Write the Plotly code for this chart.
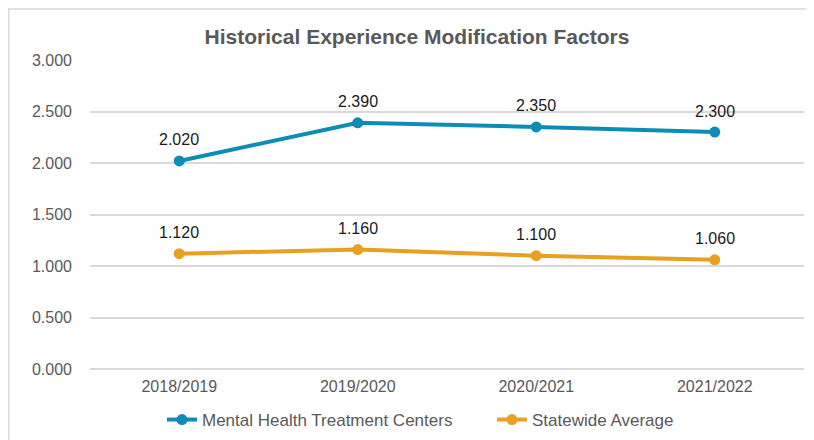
import plotly.graph_objects as go

categories = ["2018/2019", "2019/2020", "2020/2021", "2021/2022"]
mental_health = [2.020, 2.390, 2.350, 2.300]
statewide = [1.120, 1.160, 1.100, 1.060]
y_ticks = [0, 0.5, 1.0, 1.5, 2.0, 2.5, 3.0]

BLUE = "#0E8CB8"
ORANGE = "#E8A020"
GREY = "#595959"
FONT = "Liberation Sans, Arial, sans-serif"

OFF = 8  # page body margin
W, H = 814 - OFF, 440 - OFF
ML, MR, MT, MB = 90 - OFF, 10, 60 - OFF, 71
PW, PH = W - ML - MR, H - MT - MB

def px_x(p):
    return (p - OFF - ML) / PW

def px_y(p):
    return (H - MB - (p - OFF)) / PH

fig = go.Figure()
series = [("Mental Health Treatment Centers", mental_health, BLUE),
          ("Statewide Average", statewide, ORANGE)]
for name, vals, col in series:
    fig.add_trace(go.Scatter(
        x=categories, y=vals, name=name, mode="lines+markers",
        line=dict(color=col, width=4),
        marker=dict(color=col, size=11),
        cliponaxis=False,
    ))
    for c, v in zip(categories, vals):
        fig.add_annotation(x=c, y=v, text=f"{v:.3f}", showarrow=False,
                           yshift=21, yanchor="middle",
                           font=dict(family=FONT, size=16, color="#1A1A1A"))

fig.update_layout(
    width=W, height=H,
    margin=dict(l=ML, r=MR, t=MT, b=MB, autoexpand=False),
    paper_bgcolor="white", plot_bgcolor="white",
    title=dict(text="<b>Historical Experience Modification Factors</b>",
               x=(417 - OFF) / W, xanchor="center", y=1 - (37 - OFF) / H, yanchor="middle",
               font=dict(family=FONT, size=21, color=GREY)),
    xaxis=dict(type="category", range=[-0.5, 3.5], showgrid=False, showline=False,
               ticks="", ticklabelstandoff=6,
               tickfont=dict(family=FONT, size=16, color=GREY)),
    yaxis=dict(range=[0, 3.0], tickvals=y_ticks, ticktext=[f"{v:.3f}" for v in y_ticks],
               showgrid=True, gridcolor="#D9D9D9", gridwidth=1.5,
               zeroline=True, zerolinecolor="#D9D9D9", zerolinewidth=1.5,
               ticks="", ticklabelstandoff=17,
               tickfont=dict(family=FONT, size=16, color=GREY)),
    legend=dict(orientation="h", x=px_x(162), xanchor="left", y=px_y(420), yanchor="middle",
                font=dict(family=FONT, size=17, color=GREY), itemwidth=30,
                entrywidth=285, entrywidthmode="pixels",
                tracegroupgap=0, bgcolor="rgba(0,0,0,0)"),
    showlegend=True,
)

# chart-area border (top and left, as in reference)
fig.add_shape(type="line", xref="paper", yref="paper",
              x0=px_x(7), x1=px_x(830), y0=px_y(9), y1=px_y(9),
              line=dict(color="#D9D9D9", width=1.5))
fig.add_shape(type="line", xref="paper", yref="paper",
              x0=px_x(8.8), x1=px_x(8.8), y0=px_y(9), y1=px_y(450),
              line=dict(color="#D9D9D9", width=1.5))

fig.write_html("out.html")
